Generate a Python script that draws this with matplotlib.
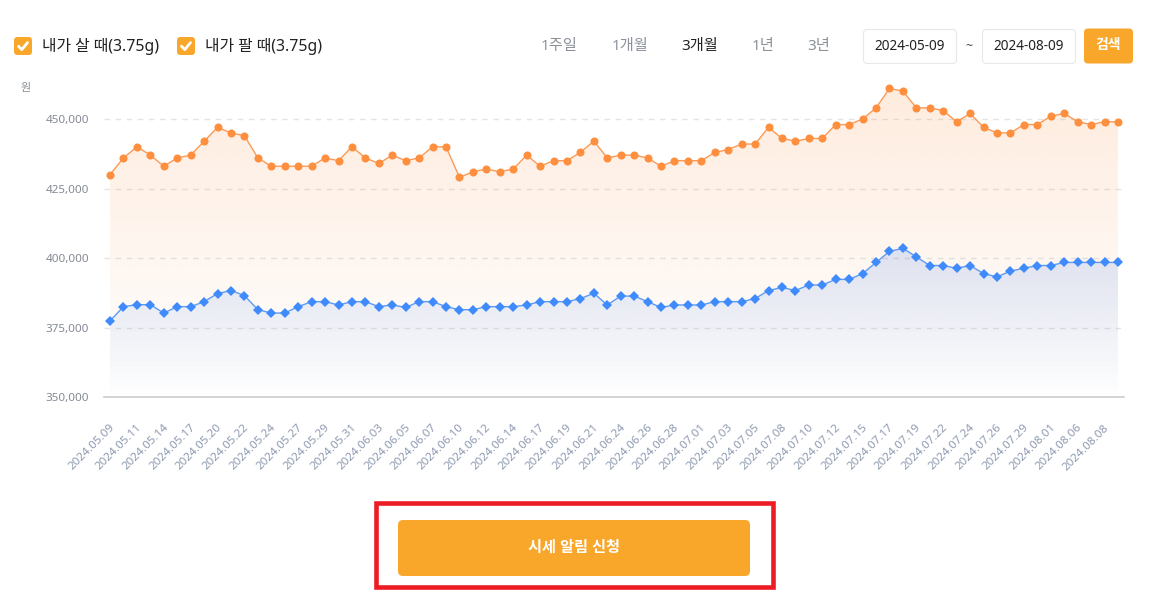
import numpy as np
import matplotlib
matplotlib.use("Agg")
import matplotlib.pyplot as plt
from matplotlib.patches import Polygon, FancyBboxPatch, Rectangle
from matplotlib.ticker import FuncFormatter
from matplotlib.transforms import ScaledTranslation

plt.rcParams['font.family'] = ['Noto Sans', 'Noto Sans CJK KR', 'DejaVu Sans']

# ---------------- data ----------------
dates = ["2024.05.09", "2024.05.10", "2024.05.11", "2024.05.13", "2024.05.14", "2024.05.16",
         "2024.05.17", "2024.05.18", "2024.05.20", "2024.05.21", "2024.05.22", "2024.05.23",
         "2024.05.24", "2024.05.25", "2024.05.27", "2024.05.28", "2024.05.29", "2024.05.30",
         "2024.05.31", "2024.06.01", "2024.06.03", "2024.06.04", "2024.06.05", "2024.06.06",
         "2024.06.07", "2024.06.08", "2024.06.10", "2024.06.11", "2024.06.12", "2024.06.13",
         "2024.06.14", "2024.06.15", "2024.06.17", "2024.06.18", "2024.06.19", "2024.06.20",
         "2024.06.21", "2024.06.22", "2024.06.24", "2024.06.25", "2024.06.26", "2024.06.27",
         "2024.06.28", "2024.06.29", "2024.07.01", "2024.07.02", "2024.07.03", "2024.07.04",
         "2024.07.05", "2024.07.06", "2024.07.08", "2024.07.09", "2024.07.10", "2024.07.11",
         "2024.07.12", "2024.07.13", "2024.07.15", "2024.07.16", "2024.07.17", "2024.07.18",
         "2024.07.19", "2024.07.20", "2024.07.22", "2024.07.23", "2024.07.24", "2024.07.25",
         "2024.07.26", "2024.07.27", "2024.07.29", "2024.07.30", "2024.08.01", "2024.08.02",
         "2024.08.06", "2024.08.07", "2024.08.08", "2024.08.09"]

buy_price = [430000, 436000, 440000, 437000, 433000, 436000, 437000, 442000, 447000, 445000,
             444000, 436000, 433000, 433000, 433000, 433000, 436000, 435000, 440000, 436000,
             434000, 437000, 435000, 436000, 440000, 440000, 429000, 431000, 432000, 431000,
             432000, 437000, 433000, 435000, 435000, 438000, 442000, 436000, 437000, 437000,
             436000, 433000, 435000, 435000, 435000, 438000, 439000, 441000, 441000, 447000,
             443000, 442000, 443000, 443000, 448000, 448000, 450000, 454000, 461000, 460000,
             454000, 454000, 453000, 449000, 452000, 447000, 445000, 445000, 448000, 448000,
             451000, 452000, 449000, 448000, 449000, 449000]

sell_price = [377400, 382500, 383200, 383200, 380200, 382500, 382500, 384300, 387200, 388300,
              386500, 381400, 380200, 380200, 382500, 384300, 384300, 383100, 384300, 384300,
              382500, 383100, 382200, 384300, 384300, 382500, 381400, 381400, 382500, 382500,
              382500, 383100, 384300, 384300, 384300, 385400, 387300, 383100, 386300, 386300,
              384300, 382200, 383100, 383100, 383100, 384300, 384300, 384300, 385400, 388300,
              389400, 388300, 390300, 390300, 392300, 392300, 394400, 398400, 402400, 403500,
              400400, 397300, 397300, 396300, 397300, 394400, 393200, 395300, 396300, 397300,
              397300, 398400, 398400, 398400, 398400, 398400]

y_ticks = [350000, 375000, 400000, 425000, 450000]
legend_labels = ["내가 살 때(3.75g)", "내가 팔 때(3.75g)"]
period_labels = ["1주일", "1개월", "3개월", "1년", "3년"]
period_x = [559, 630, 700, 763, 819]
start_date, end_date = "2024-05-09", "2024-08-09"

# ---------------- figure ----------------
W, H = 1159, 597
fig = plt.figure(figsize=(W / 100, H / 100), dpi=100)
fig.patch.set_facecolor('white')

ax_l, ax_r, ax_t, ax_b = 104, 1124, 77.3, 397
ax = fig.add_axes([ax_l / W, 1 - ax_b / H, (ax_r - ax_l) / W, (ax_b - ax_t) / H])
ax.set_facecolor('none')

x = np.arange(len(dates))
ybot, ytop = 350000, 465000
ax.set_xlim(-0.45, len(dates) - 1 + 0.45)
ax.set_ylim(ybot, ytop)

def grad_fill(xs, ys, rgb, a_top, a_bot, g_top, z):
    verts = [(xs[0], ybot)] + list(zip(xs, ys)) + [(xs[-1], ybot)]
    poly = Polygon(verts, closed=True, facecolor='none', edgecolor='none')
    ax.add_patch(poly)
    n = 256
    img = np.zeros((n, 1, 4))
    img[..., 0] = rgb[0] / 255
    img[..., 1] = rgb[1] / 255
    img[..., 2] = rgb[2] / 255
    img[:, 0, 3] = np.linspace(a_top, a_bot, n)
    im = ax.imshow(img, extent=[xs[0], xs[-1], ybot, g_top], aspect='auto',
                   origin='upper', zorder=z, interpolation='bilinear')
    im.set_clip_path(poly)

grad_fill(x, buy_price, (251, 140, 60), 0.17, 0.0, max(buy_price), 1)
grad_fill(x, sell_price, (40, 110, 240), 0.15, 0.0, max(sell_price), 2)

ax.plot(x, buy_price, color='#fb9a55', lw=1.0, zorder=4)
ax.plot(x, buy_price, 'o', color='#fd8f3f', ms=5.8, mew=0, zorder=5)
ax.plot(x, sell_price, color='#5c9bf5', lw=1.0, zorder=4)
ax.plot(x, sell_price, 'D', color='#3f8bfb', ms=4.8, mew=0, zorder=5)

ax.set_yticks(y_ticks)
ax.yaxis.set_major_formatter(FuncFormatter(lambda v, p: f"{int(v):,}"))
ax.grid(axis='y', color='#e4e4e4', lw=1.0, linestyle=(0, (4, 4)), zorder=0)
ax.set_axisbelow(True)
ax.tick_params(axis='y', length=0, pad=10.8, labelsize=8.4, labelcolor='#858a94')

ax.set_xticks(x[::2])
ax.set_xticklabels(dates[::2], rotation=45, ha='right', va='center',
                   rotation_mode='anchor', fontsize=8.4, color='#8e9ab0')
ax.tick_params(axis='x', length=0, pad=21)
shift = ScaledTranslation(3 / 100, 0, fig.dpi_scale_trans)
for lab in ax.get_xticklabels():
    lab.set_transform(lab.get_transform() + shift)

for s in ['top', 'right', 'left']:
    ax.spines[s].set_visible(False)
ax.spines['bottom'].set_color('#cccccc')
ax.spines['bottom'].set_linewidth(1.2)

# ---------------- overlay (UI parts) ----------------
ov = fig.add_axes([0, 0, 1, 1])
ov.set_xlim(0, W)
ov.set_ylim(H, 0)
ov.axis('off')
ov.set_facecolor('none')

orange_ui = '#f9a72b'

def checkbox(x0, y0):
    ov.add_patch(FancyBboxPatch((x0, y0), 18, 18, boxstyle='round,pad=0,rounding_size=3.5',
                                fc=orange_ui, ec='none'))
    ov.plot([x0 + 4.5, x0 + 7.8, x0 + 13.5], [y0 + 9.2, y0 + 12.6, y0 + 5.6],
            color='white', lw=2.0, solid_capstyle='round', solid_joinstyle='round')

checkbox(14, 37)
ov.text(42, 46.5, legend_labels[0], fontsize=11.4, color='#222222', va='center', ha='left')
checkbox(177, 37)
ov.text(205, 46.5, legend_labels[1], fontsize=11.4, color='#222222', va='center', ha='left')

for lab, px in zip(period_labels, period_x):
    ov.text(px, 46.5, lab, fontsize=11, ha='center', va='center',
            color='#222222' if lab == "3개월" else '#8b9099')

ov.add_patch(FancyBboxPatch((863.5, 29.5), 93, 34, boxstyle='round,pad=0,rounding_size=4',
                            fc='white', ec='#e8e8e8', lw=0.8))
ov.text(910, 46.5, start_date, fontsize=9.8, ha='center', va='center', color='#222222')
ov.text(969, 47, "~", fontsize=9, ha='center', va='center', color='#444444')
ov.add_patch(FancyBboxPatch((982.5, 29.5), 93, 34, boxstyle='round,pad=0,rounding_size=4',
                            fc='white', ec='#e8e8e8', lw=0.8))
ov.text(1029, 46.5, end_date, fontsize=9.8, ha='center', va='center', color='#222222')
ov.add_patch(FancyBboxPatch((1084, 28.5), 49, 35, boxstyle='round,pad=0,rounding_size=4',
                            fc=orange_ui, ec='none'))
ov.text(1108.5, 46, "검색", fontsize=10, ha='center', va='center', color='white',
        fontweight='bold')

ov.text(26, 88, "원", fontsize=8, ha='center', va='center', color='#8b9099')

ov.add_patch(Rectangle((375.5, 502.5), 397, 84, fc='none', ec='#ed1c24', lw=3.3))
ov.add_patch(FancyBboxPatch((398, 520), 352, 56, boxstyle='round,pad=0,rounding_size=5',
                            fc=orange_ui, ec='none'))
ov.text(574, 548, "시세 알림 신청", fontsize=11, ha='center', va='center', color='white',
        fontweight='bold')

fig.savefig('out.png', dpi=100, facecolor='white')
